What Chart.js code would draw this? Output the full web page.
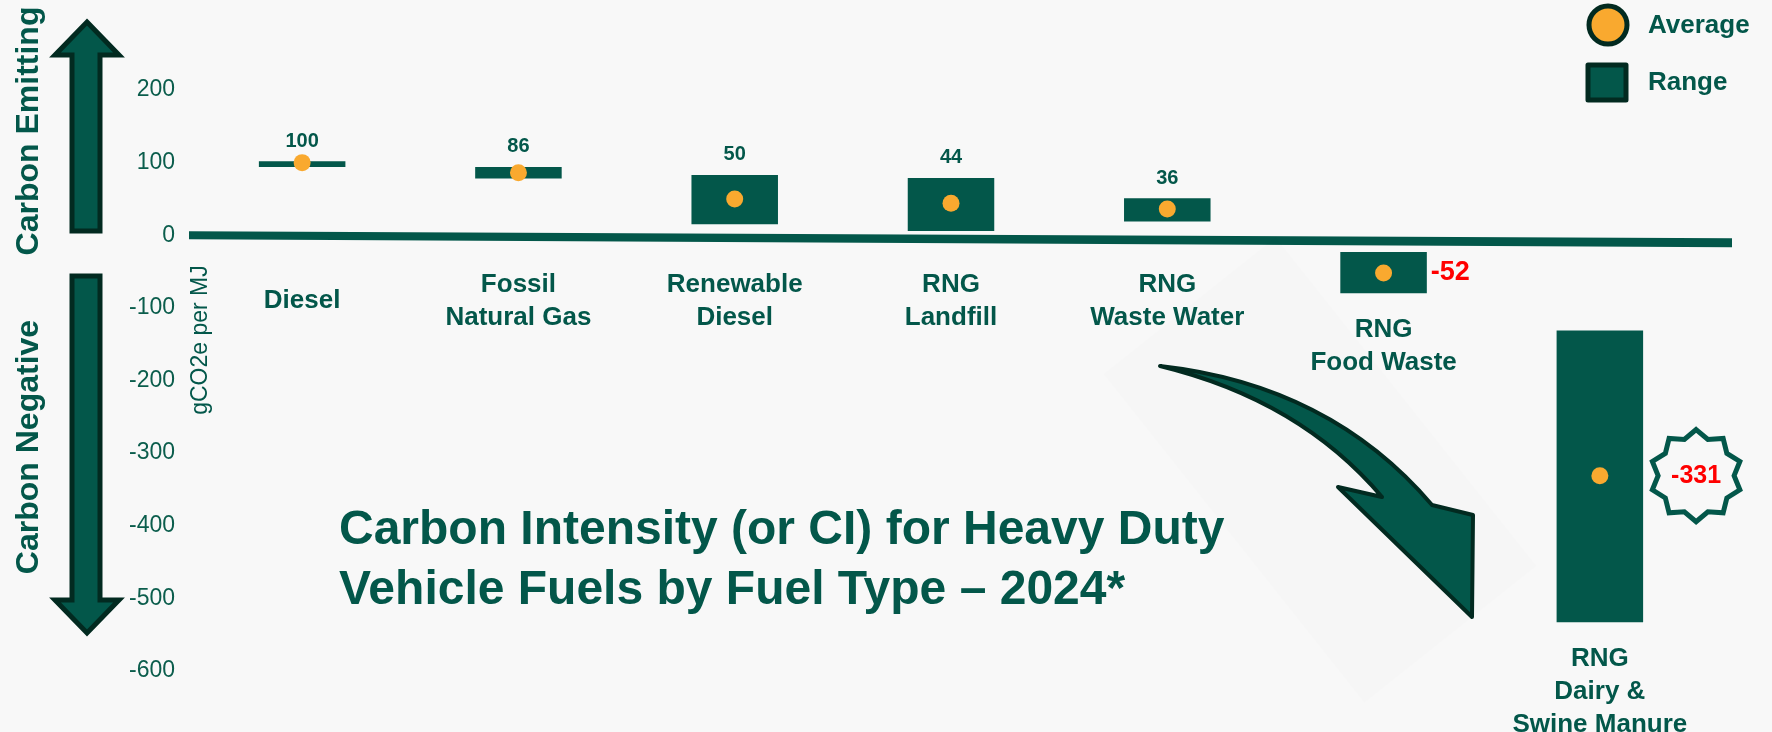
<!DOCTYPE html>
<html>
<head>
<meta charset="utf-8">
<script src="https://cdn.jsdelivr.net/npm/chart.js@4.4.1/dist/chart.umd.min.js"></script>
<style>
  html, body { margin: 0; padding: 0; background: #f8f8f8; }
  #wrap { width: 1772px; height: 732px; }
</style>
</head>
<body>
<div id="wrap"><canvas id="ciChart" width="1772" height="732"></canvas></div>
<script>
// fuel types (label lines)
var categories = [
  ['Diesel'],
  ['Fossil', 'Natural Gas'],
  ['Renewable', 'Diesel'],
  ['RNG', 'Landfill'],
  ['RNG', 'Waste Water'],
  ['RNG', 'Food Waste'],
  ['RNG', 'Dairy &', 'Swine Manure']
];
// range of CI per fuel (gCO2e per MJ)
var rangeLow  = [94, 78, 15, 6, 19, -80, -533];
var rangeHigh = [102, 94, 83, 79, 51, -23, -131];
// average CI per fuel
var averages  = [100, 86, 50, 44, 36, -52, -331];
// y axis
var yMin = -600, yMax = 200, yStep = 100;

var GREEN = '#03574a';
var DARK = '#022a20';
var ORANGE = '#f9a92f';
var RED = '#ff0000';
var FONT = '"Liberation Sans", Arial, sans-serif';

var ranges = [];
for (var i = 0; i < rangeLow.length; i++) {
  ranges.push([rangeLow[i], rangeHigh[i]]);
}

function star(ctx, cx, cy, rOut, rIn, n) {
  ctx.beginPath();
  for (var k = 0; k < n * 2; k++) {
    var r = (k % 2 == 0) ? rOut : rIn;
    var a = -Math.PI / 2 + k * Math.PI / n;
    var px = cx + r * Math.cos(a), py = cy + r * Math.sin(a);
    if (k == 0) ctx.moveTo(px, py); else ctx.lineTo(px, py);
  }
  ctx.closePath();
}

// zero line + side arrows, drawn under the bars
var backPlugin = {
  id: 'backPlugin',
  beforeDatasetsDraw: function(chart) {
    var ctx = chart.ctx;
    var y = chart.scales.y;
    var z = y.getPixelForValue(0);
    ctx.save();
    // slightly tilted zero line
    ctx.fillStyle = GREEN;
    ctx.beginPath();
    ctx.moveTo(189, z - 4);
    ctx.lineTo(1732, z + 3);
    ctx.lineTo(1732, z + 12);
    ctx.lineTo(189, z + 4);
    ctx.closePath();
    ctx.fill();

    // faint band behind the curved arrow
    ctx.save();
    ctx.translate(1320, 470);
    ctx.rotate(0.9);
    ctx.fillStyle = 'rgba(0,0,0,0.008)';
    ctx.fillRect(-210, -110, 420, 220);
    ctx.restore();

    // up / down arrows
    ctx.lineWidth = 5;
    ctx.strokeStyle = DARK;
    ctx.fillStyle = GREEN;
    ctx.lineJoin = 'miter';
    ctx.beginPath();
    ctx.moveTo(87, 22); ctx.lineTo(119, 55); ctx.lineTo(100, 55);
    ctx.lineTo(100, 231); ctx.lineTo(72, 231); ctx.lineTo(72, 55);
    ctx.lineTo(55, 55); ctx.closePath();
    ctx.fill(); ctx.stroke();
    ctx.beginPath();
    ctx.moveTo(72, 276); ctx.lineTo(100, 276); ctx.lineTo(100, 600);
    ctx.lineTo(119, 600); ctx.lineTo(87, 633); ctx.lineTo(55, 600);
    ctx.lineTo(72, 600); ctx.closePath();
    ctx.fill(); ctx.stroke();

    ctx.fillStyle = GREEN;
    ctx.font = 'bold 32px ' + FONT;
    ctx.textAlign = 'center';
    ctx.textBaseline = 'middle';
    ctx.save(); ctx.translate(29, 131); ctx.rotate(-Math.PI / 2);
    ctx.fillText('Carbon Emitting', 0, 0); ctx.restore();
    ctx.save(); ctx.translate(29, 447); ctx.rotate(-Math.PI / 2);
    ctx.fillText('Carbon Negative', 0, 0); ctx.restore();

    // axis title
    ctx.font = '23px ' + FONT;
    ctx.save(); ctx.translate(201, 340); ctx.rotate(-Math.PI / 2);
    ctx.fillText('gCO2e per MJ', 0, 0); ctx.restore();
    ctx.restore();
  },
  afterDatasetsDraw: function(chart) {
    var ctx = chart.ctx;
    var x = chart.scales.x, y = chart.scales.y;
    var z = y.getPixelForValue(0);
    var bars = chart.getDatasetMeta(0).data;
    var minAvg = Math.min.apply(null, averages);
    ctx.save();
    ctx.textAlign = 'center';
    ctx.textBaseline = 'middle';
    for (var i = 0; i < categories.length; i++) {
      var cx = x.getPixelForValue(i);
      var top = y.getPixelForValue(rangeHigh[i]);
      var bot = y.getPixelForValue(rangeLow[i]);
      var half = bars[i].width / 2;
      var ay = y.getPixelForValue(averages[i]);
      // value labels
      if (averages[i] >= 0) {
        ctx.fillStyle = GREEN;
        ctx.font = 'bold 20px ' + FONT;
        ctx.fillText(String(averages[i]), cx, top - 20);
      } else if (averages[i] == minAvg) {
        var bx = cx + half + 53;
        ctx.lineWidth = 5;
        ctx.strokeStyle = GREEN;
        star(ctx, bx, ay, 46, 38, 10);
        ctx.stroke();
        ctx.fillStyle = RED;
        ctx.font = 'bold 25px ' + FONT;
        ctx.fillText(String(averages[i]), bx, ay);
      } else {
        ctx.fillStyle = RED;
        ctx.font = 'bold 27px ' + FONT;
        ctx.textAlign = 'left';
        ctx.fillText(String(averages[i]), cx + half + 4, ay);
        ctx.textAlign = 'center';
      }
      // category labels
      ctx.fillStyle = GREEN;
      ctx.font = 'bold 26px ' + FONT;
      var lines = categories[i];
      var first;
      if (rangeLow[i] >= 0) {
        first = z + 66 - (lines.length - 1) * 33 / 2;
      } else {
        first = bot + 36;
      }
      for (var j = 0; j < lines.length; j++) {
        ctx.fillText(lines[j], cx, first + j * 33);
      }
    }

    // title
    ctx.textAlign = 'left';
    ctx.font = 'bold 48px ' + FONT;
    ctx.fillText('Carbon Intensity (or CI) for Heavy Duty', 339, 531);
    ctx.fillText('Vehicle Fuels by Fuel Type \u2013 2024*', 339, 591);

    // curved arrow
    ctx.beginPath();
    ctx.moveTo(1160, 366);
    ctx.quadraticCurveTo(1330, 385, 1432, 505);
    ctx.lineTo(1473, 515);
    ctx.lineTo(1472, 617);
    ctx.lineTo(1338, 487);
    ctx.lineTo(1382, 497);
    ctx.quadraticCurveTo(1300, 400, 1160, 366);
    ctx.closePath();
    ctx.fillStyle = GREEN;
    ctx.fill();
    ctx.lineWidth = 4;
    ctx.strokeStyle = DARK;
    ctx.lineJoin = 'round';
    ctx.stroke();

    // legend
    ctx.lineWidth = 5;
    ctx.strokeStyle = DARK;
    ctx.beginPath();
    ctx.arc(1608, 25, 19, 0, Math.PI * 2);
    ctx.fillStyle = ORANGE;
    ctx.fill(); ctx.stroke();
    ctx.fillStyle = GREEN;
    ctx.fillRect(1588, 65, 38, 35);
    ctx.strokeRect(1588, 65, 38, 35);
    ctx.font = 'bold 26px ' + FONT;
    ctx.fillStyle = GREEN;
    ctx.fillText('Average', 1648, 26);
    ctx.fillText('Range', 1648, 83);
    ctx.restore();
  }
};

var ctx = document.getElementById('ciChart');
new Chart(ctx, {
  type: 'bar',
  data: {
    labels: categories,
    datasets: [
      {
        label: 'Range',
        data: ranges,
        backgroundColor: GREEN,
        borderWidth: 0,
        barPercentage: 0.4,
        categoryPercentage: 1,
        order: 2
      },
      {
        type: 'line',
        label: 'Average',
        data: averages,
        showLine: false,
        pointRadius: 8.5,
        pointBackgroundColor: ORANGE,
        pointBorderWidth: 0,
        order: 1
      }
    ]
  },
  options: {
    responsive: false,
    animation: false,
    layout: { padding: { left: 0, top: 90, right: 64, bottom: 61 } },
    plugins: { legend: { display: false }, tooltip: { enabled: false } },
    scales: {
      x: { display: false },
      y: {
        min: yMin,
        max: yMax,
        afterFit: function(scale) { scale.width = 194; },
        ticks: {
          stepSize: yStep,
          padding: 19,
          color: '#0b5d4c',
          font: { family: FONT, size: 23 }
        },
        grid: { display: false, drawTicks: false },
        border: { display: false }
      }
    }
  },
  plugins: [backPlugin]
});
</script>
</body>
</html>
